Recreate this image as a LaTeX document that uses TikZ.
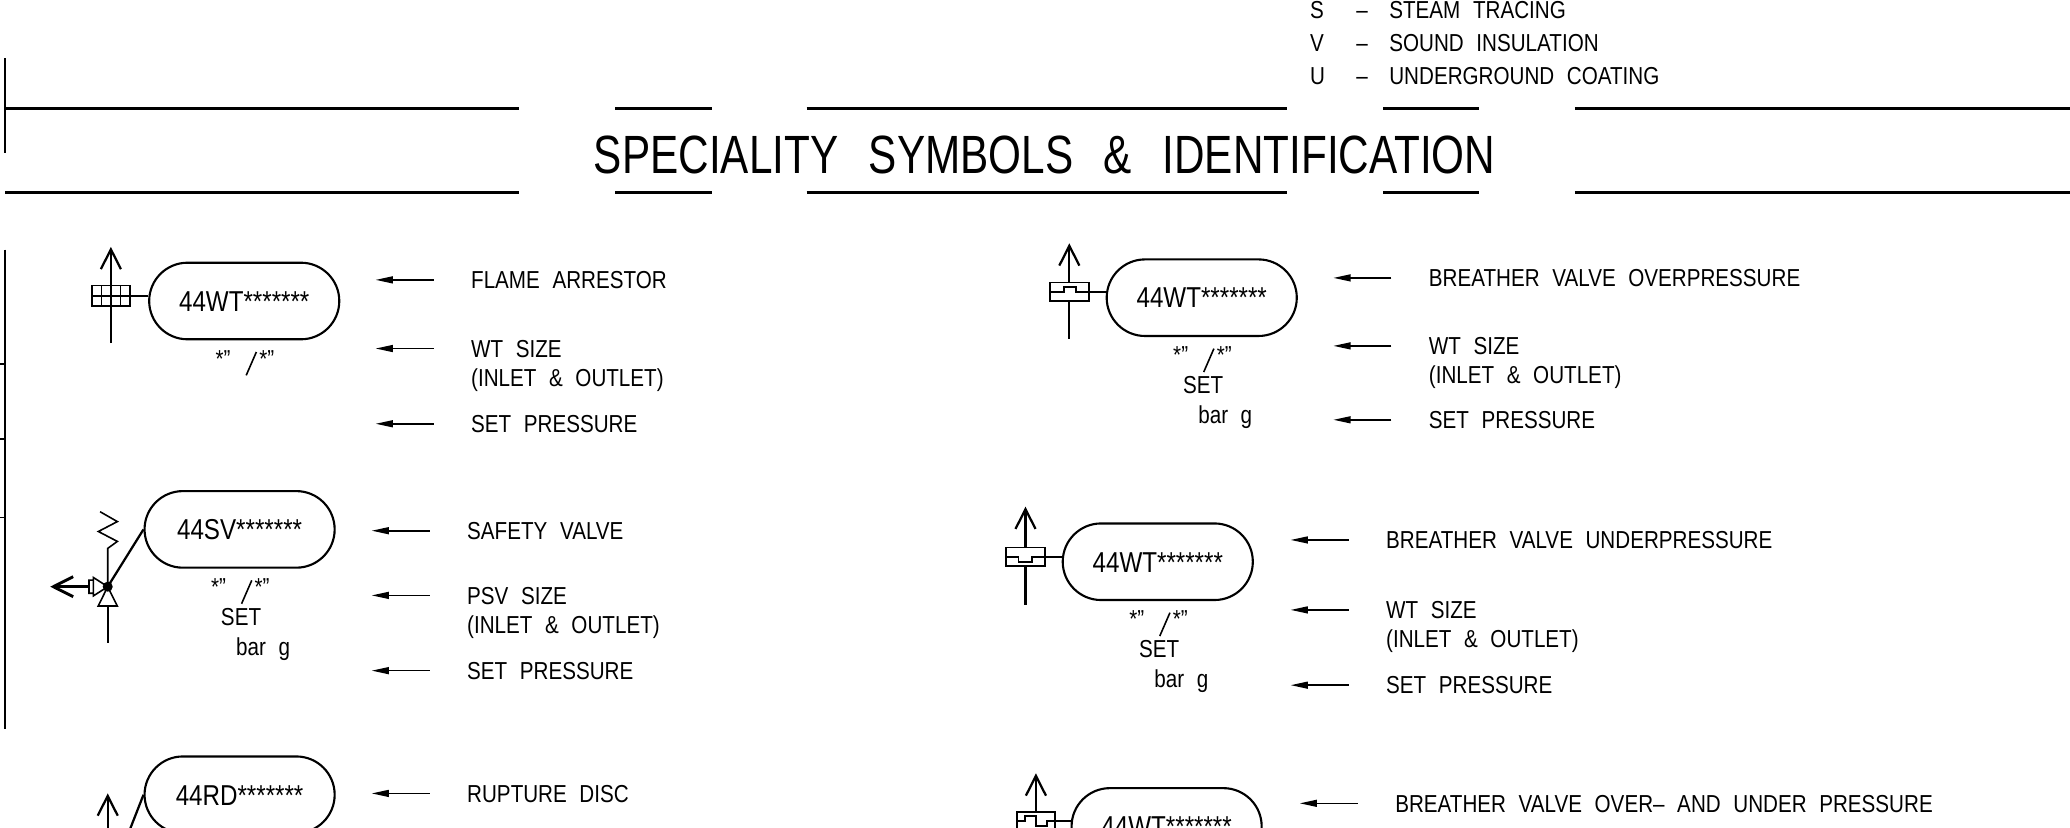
\documentclass[tikz,border=0pt]{standalone}
\usepackage{fontspec}
\setmainfont{Liberation Sans}[FakeStretch=0.84,WordSpace=2.2]
\newfontfamily\titlefont{Liberation Sans}[FakeStretch=0.785,WordSpace=2.6]
\usetikzlibrary{arrows.meta}
\begin{document}
\begin{tikzpicture}[x=0.5pt,y=-0.5pt,
  tagbox/.style={draw,line width=0.8pt,rounded corners=14.5pt,minimum width=72pt,
    minimum height=29pt,inner sep=0pt,font=\fontsize{10.9}{12}\selectfont,
    text height=7.8pt,text depth=0pt},
  lbl/.style={inner sep=0pt,anchor=west,font=\fontsize{9.3}{11}\selectfont,
    text height=6.66pt,text depth=0pt},
  undertxt/.style={inner sep=0pt,anchor=base west,font=\fontsize{9.3}{11}\selectfont},
  ptr/.style={line width=0.6pt,-{Triangle[length=6.5pt,width=2.6pt]}},
  pipe/.style={line width=0.85pt},
  vent/.style={pipe,-{Straight Barb[length=7.5pt,width=7.6pt]}},
  thinbox/.style={line width=0.6pt},
  hrule/.style={line width=1pt}]

\useasboundingbox (0,0) rectangle (1568,627);
\clip (0,0) rectangle (1568,627);

% title block
\foreach \a/\b in {4/393,466/539,611/975,1047.6/1120,1193/1568}
  \draw[hrule] (\a,82) -- (\b,82) (\a,146) -- (\b,146);
\draw[line width=0.7pt] (4,44) -- (4,116) (4,189) -- (4,552)
  (0,276) -- (4,276) (0,332.5) -- (4,332.5) (0,392) -- (4,392);
\node[font=\titlefont\fontsize{20.4}{24}\selectfont,inner sep=0pt,anchor=base]
  (title) at (791.3,131.3) {SPECIALITY SYMBOLS \& IDENTIFICATION};

% legend
\foreach \k/\t [count=\i from 0] in {S/STEAM TRACING,V/SOUND INSULATION,U/UNDERGROUND COATING} {
  \node[lbl] (key\k) at (992,7.6+24.7*\i) {\k};
  \node[lbl] (dash\k) at (1027,7.6+24.7*\i) {–};
  \node[lbl] (txt\k) at (1052,7.6+24.7*\i) {\t};
}

% tags
\node[tagbox] (fa)   at (185,228)     {44WT*******};
\node[tagbox] (sv)   at (181.5,401)   {44SV*******};
\node[tagbox] (rd)   at (181.5,602)   {44RD*******};
\node[tagbox] (bvo)  at (910.3,225.5) {44WT*******};
\node[tagbox] (bvu)  at (877,425.5)   {44WT*******};
\node[tagbox] (bvou) at (883.7,626)   {44WT*******};

% sizes and set pressure under the tags
\foreach \t in {fa,sv,bvo,bvu} {
  \node[undertxt] (\t-in)  at ([shift={(-22,20.3)}]\t.south) {*”};
  \node[undertxt] (\t-out) at ([shift={(11,20.3)}]\t.south)  {*”};
  \draw[thinbox] ([shift={(9.2,8.8)}]\t.south) -- ([shift={(1.5,26.5)}]\t.south);
}
\foreach \t in {sv,bvo,bvu} {
  \node[undertxt] (\t-set) at ([shift={(-14.5,43)}]\t.south) {SET};
  \node[undertxt] (\t-bar) at ([shift={(-3,65.5)}]\t.south)  {bar g};
}

% descriptions
\node[lbl] (fa1)   at (356.5,212)   {FLAME ARRESTOR};
\node[lbl] (fa2)   at (356.5,264)   {WT SIZE};
\node[lbl] (fa3)   at (356.5,286)   {(INLET \& OUTLET)};
\node[lbl] (fa4)   at (356.5,321)   {SET PRESSURE};
\node[lbl] (sv1)   at (353.5,402)   {SAFETY VALVE};
\node[lbl] (sv2)   at (353.5,451)   {PSV SIZE};
\node[lbl] (sv3)   at (353.5,473)   {(INLET \& OUTLET)};
\node[lbl] (sv4)   at (353.5,508)   {SET PRESSURE};
\node[lbl] (rd1)   at (353.5,601)   {RUPTURE DISC};
\node[lbl] (bvo1)  at (1082,210.5)  {BREATHER VALVE OVERPRESSURE};
\node[lbl] (bvo2)  at (1082,262)    {WT SIZE};
\node[lbl] (bvo3)  at (1082,283.5)  {(INLET \& OUTLET)};
\node[lbl] (bvo4)  at (1082,318)    {SET PRESSURE};
\node[lbl] (bvu1)  at (1049.6,409)  {BREATHER VALVE UNDERPRESSURE};
\node[lbl] (bvu2)  at (1049.6,462)  {WT SIZE};
\node[lbl] (bvu3)  at (1049.6,484)  {(INLET \& OUTLET)};
\node[lbl] (bvu4)  at (1049.6,519)  {SET PRESSURE};
\node[lbl] (bvou1) at (1056.5,608.5) {BREATHER VALVE OVER– AND UNDER PRESSURE};

\foreach \n in {fa1,fa2,fa4,sv1,sv2,sv4,rd1,bvo1,bvo2,bvo4,bvu1,bvu2,bvu4,bvou1}
  \draw[ptr] ([xshift=-14pt]\n.west) -- ([xshift=-36pt]\n.west);

% flame arrestor
\scope[shift={(84,224)}]
\draw[vent] (0,36) -- (0,-37);
\draw[thinbox] (-14.5,-7.75) rectangle (14.5,7.75)
  (-7.25,-7.75) -- (-7.25,7.75) (7.25,-7.75) -- (7.25,7.75) (-14.5,0) -- (14.5,0);
\coordinate (faS) at (14.5,0);
\endscope
\draw[pipe] (faS) -- (faS -| fa.west);

% safety valve
\scope[shift={(81.6,444.4)}]
\fill (0,0) circle[radius=1.9pt];
\draw[pipe] (0,14.6) -- (0,42.6);
\draw[thinbox] (0,0) -- (-7.2,14.6) -- (7.2,14.6) -- cycle;
\draw[thinbox] (0,0) -- (-10.9,-7) -- (-10.9,7) -- cycle (-14.2,-5) rectangle (-10.9,5);
\draw[vent,line width=1.1pt] (-14.2,0) -- (-43.6,0);
\draw[thinbox] (0,0) -- (0,-29) -- (7.3,-34.3) -- (-7.1,-41.8) -- (7.3,-49.3) -- (-5.8,-56.8);
\coordinate (svS) at (0,0);
\endscope
\draw[pipe] (svS) -- (sv.west);

% rupture disc
\coordinate (rdS) at (86,660);
\draw[vent] (81.6,640) -- (81.6,601);
\draw[pipe] (rd.west) -- (rdS);

% breather valve overpressure
\scope[shift={(810,221)}]
\draw[pipe] (0,7) -- (0,36);
\draw[vent] (0,-7) -- (0,-36.7);
\draw[thinbox] (-14.8,-7) rectangle (14.8,7)
  (-14.8,0) -- (-4,0) -- (-4,-3.8) -- (5,-3.8) -- (5,0) -- (14.8,0);
\coordinate (bvoS) at (14.8,0);
\endscope
\draw[pipe] (bvoS) -- (bvoS -| bvo.west);

% breather valve underpressure
\scope[shift={(776.8,421.7)}]
\draw[pipe] (0,7.1) -- (0,36.6);
\draw[vent] (0,-7.1) -- (0,-37.9);
\draw[thinbox] (-14.8,-7.1) rectangle (14.8,7.1)
  (-14.8,0) -- (-5.4,0) -- (-5.4,3.8) -- (4.7,3.8) -- (4.7,0) -- (14.8,0);
\coordinate (bvuS) at (14.8,0);
\endscope
\draw[pipe] (bvuS) -- (bvuS -| bvu.west);

% breather valve over- and underpressure
\scope[shift={(784.7,622)}]
\draw[pipe] (0,7) -- (0,40);
\draw[vent] (0,-7) -- (0,-36.2);
\draw[thinbox] (-14.3,-7) rectangle (14.3,7)
  (-14.3,0) -- (-8.5,0) -- (-8.5,-3.8) -- (0,-3.8) -- (0,3.8) -- (8.5,3.8) -- (8.5,0) -- (14.3,0);
\coordinate (bvouS) at (14.3,0);
\endscope
\draw[pipe] (bvouS) -- (bvouS -| bvou.west);
\end{tikzpicture}
\end{document}
